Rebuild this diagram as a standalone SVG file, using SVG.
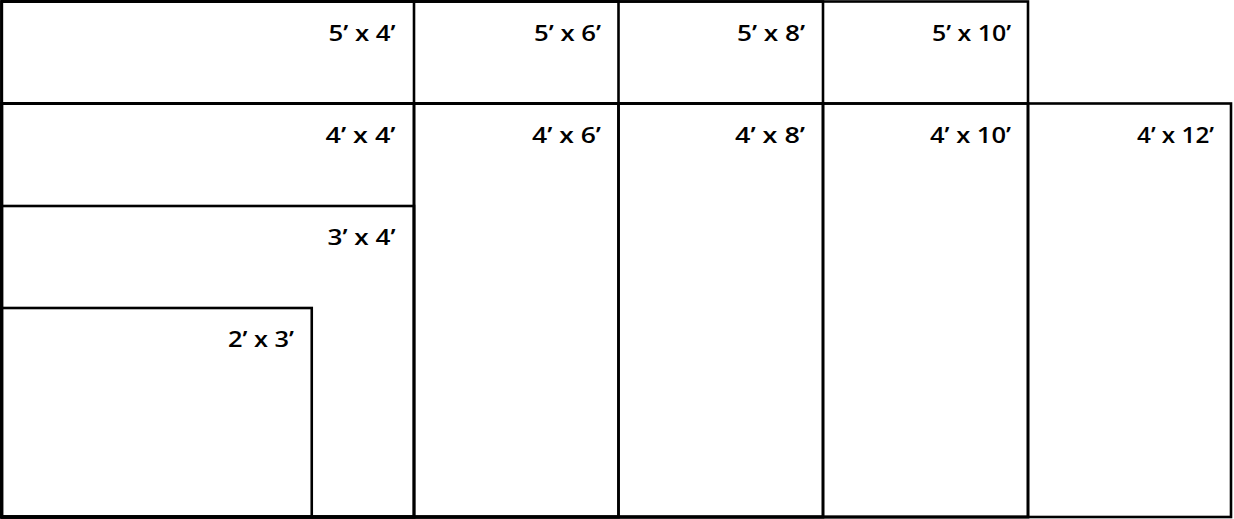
<svg xmlns="http://www.w3.org/2000/svg" width="1234" height="519" viewBox="0 0 1234 519">
<style>
rect{fill:none;stroke:#000;stroke-width:2.6}
text{font-family:"Open Sans","Liberation Sans",sans-serif;font-weight:600;font-size:21px;fill:#000;text-anchor:end}
</style>
<rect x="0" y="0" width="1234" height="519" style="fill:#fff;stroke:none"/>
<g id="n-5x10"><rect x="1.75" y="1.5" width="1026.25" height="515.5"/><text x="1011" y="41" textLength="79" lengthAdjust="spacingAndGlyphs">5’ x 10’</text></g>
<g id="n-5x8"><rect x="1.75" y="1.5" width="821.25" height="515.5"/><text x="805" y="41" textLength="68" lengthAdjust="spacingAndGlyphs">5’ x 8’</text></g>
<g id="n-5x6"><rect x="1.75" y="1.5" width="616.75" height="515.5"/><text x="601" y="41" textLength="67" lengthAdjust="spacingAndGlyphs">5’ x 6’</text></g>
<g id="n-5x4"><rect x="1.75" y="1.5" width="412.25" height="515.5"/><text x="395.5" y="41" textLength="67" lengthAdjust="spacingAndGlyphs">5’ x 4’</text></g>
<g id="n-4x12"><rect x="1.75" y="103.5" width="1229.25" height="413.5"/><text x="1214" y="143" textLength="77" lengthAdjust="spacingAndGlyphs">4’ x 12’</text></g>
<g id="n-4x10"><rect x="1.75" y="103.5" width="1026.25" height="413.5"/><text x="1011" y="143" textLength="81" lengthAdjust="spacingAndGlyphs">4’ x 10’</text></g>
<g id="n-4x8"><rect x="1.75" y="103.5" width="821.25" height="413.5"/><text x="805" y="143" textLength="70" lengthAdjust="spacingAndGlyphs">4’ x 8’</text></g>
<g id="n-4x6"><rect x="1.75" y="103.5" width="616.75" height="413.5"/><text x="601" y="143" textLength="69" lengthAdjust="spacingAndGlyphs">4’ x 6’</text></g>
<g id="n-4x4"><rect x="1.75" y="103.5" width="412.25" height="413.5"/><text x="395.5" y="143" textLength="70" lengthAdjust="spacingAndGlyphs">4’ x 4’</text></g>
<g id="n-3x4"><rect x="1.75" y="206" width="412.25" height="311"/><text x="395.5" y="245" textLength="68" lengthAdjust="spacingAndGlyphs">3’ x 4’</text></g>
<g id="n-2x3"><rect x="1.75" y="308" width="310" height="209"/><text x="294" y="347" textLength="66" lengthAdjust="spacingAndGlyphs">2’ x 3’</text></g>
<g id="connectors"/>
</svg>
